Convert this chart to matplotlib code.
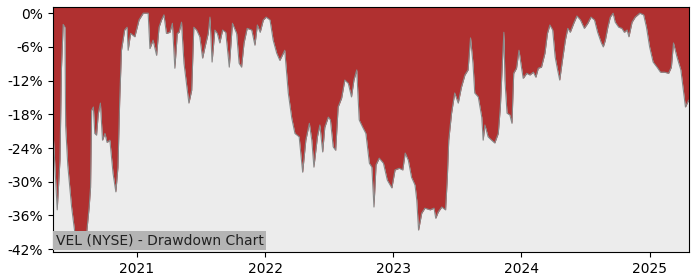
import matplotlib
matplotlib.use("Agg")
import matplotlib.pyplot as plt
import matplotlib.dates as mdates
import matplotlib.ticker as mticker
import numpy as np
import pandas as pd

ticker_label = "VEL (NYSE) - Drawdown Chart"

dates = [
    "2020-05-07", "2020-05-19", "2020-05-27", "2020-05-31", "2020-06-05", "2020-06-10",
    "2020-06-12", "2020-06-18", "2020-06-29", "2020-07-08", "2020-07-13", "2020-08-01",
    "2020-08-11", "2020-08-18", "2020-08-22", "2020-08-25", "2020-08-30", "2020-09-03",
    "2020-09-08", "2020-09-13", "2020-09-19", "2020-09-25", "2020-10-02", "2020-10-08",
    "2020-10-16", "2020-10-25", "2020-11-02", "2020-11-08", "2020-11-13", "2020-11-18",
    "2020-11-27", "2020-12-04", "2020-12-07", "2020-12-14", "2020-12-26", "2021-01-07",
    "2021-01-19", "2021-02-02", "2021-02-07", "2021-02-16", "2021-02-26", "2021-03-05",
    "2021-03-12", "2021-03-19", "2021-03-26", "2021-04-05", "2021-04-12", "2021-04-19",
    "2021-04-26", "2021-05-01", "2021-05-08", "2021-05-15", "2021-05-22", "2021-05-29",
    "2021-06-06", "2021-06-12", "2021-06-20", "2021-06-29", "2021-07-07", "2021-07-14",
    "2021-07-23", "2021-07-28", "2021-08-03", "2021-08-11", "2021-08-18", "2021-08-25",
    "2021-09-02", "2021-09-11", "2021-09-21", "2021-09-30", "2021-10-12", "2021-10-19",
    "2021-10-26", "2021-11-02", "2021-11-11", "2021-11-24", "2021-12-03", "2021-12-10",
    "2021-12-18", "2021-12-27", "2022-01-04", "2022-01-15", "2022-01-24", "2022-02-03",
    "2022-02-12", "2022-02-26", "2022-03-08", "2022-03-18", "2022-03-27", "2022-04-08",
    "2022-04-18", "2022-04-27", "2022-05-07", "2022-05-14", "2022-05-20", "2022-05-30",
    "2022-06-06", "2022-06-14", "2022-06-20", "2022-06-30", "2022-07-06", "2022-07-14",
    "2022-07-21", "2022-07-28", "2022-08-07", "2022-08-16", "2022-08-26", "2022-09-04",
    "2022-09-11", "2022-09-19", "2022-09-26", "2022-10-06", "2022-10-15", "2022-10-25",
    "2022-11-01", "2022-11-07", "2022-11-13", "2022-11-22", "2022-12-04", "2022-12-15",
    "2022-12-28", "2023-01-06", "2023-01-18", "2023-01-28", "2023-02-04", "2023-02-13",
    "2023-02-22", "2023-03-04", "2023-03-09", "2023-03-14", "2023-03-23", "2023-04-01",
    "2023-04-16", "2023-04-27", "2023-05-02", "2023-05-09", "2023-05-19", "2023-05-30",
    "2023-06-04", "2023-06-08", "2023-06-16", "2023-06-25", "2023-07-05", "2023-07-14",
    "2023-07-24", "2023-08-02", "2023-08-09", "2023-08-16", "2023-08-21", "2023-08-31",
    "2023-09-10", "2023-09-14", "2023-09-19", "2023-09-28", "2023-10-08", "2023-10-17",
    "2023-10-27", "2023-11-02", "2023-11-08", "2023-11-12", "2023-11-15", "2023-11-21",
    "2023-11-29", "2023-12-05", "2023-12-10", "2023-12-18", "2023-12-25", "2024-01-01",
    "2024-01-06", "2024-01-16", "2024-01-25", "2024-02-04", "2024-02-11", "2024-02-18",
    "2024-02-27", "2024-03-08", "2024-03-15", "2024-03-22", "2024-03-30", "2024-04-06",
    "2024-04-13", "2024-04-19", "2024-04-26", "2024-05-05", "2024-05-12", "2024-05-19",
    "2024-05-29", "2024-06-07", "2024-06-17", "2024-06-28", "2024-07-08", "2024-07-17",
    "2024-07-27", "2024-08-05", "2024-08-15", "2024-08-21", "2024-08-27", "2024-09-03",
    "2024-09-10", "2024-09-18", "2024-09-24", "2024-10-04", "2024-10-13", "2024-10-20",
    "2024-10-28", "2024-11-02", "2024-11-11", "2024-11-20", "2024-12-03", "2024-12-14",
    "2024-12-22", "2024-12-31", "2025-01-10", "2025-01-21", "2025-01-31", "2025-02-11",
    "2025-02-23", "2025-03-03", "2025-03-09", "2025-03-19", "2025-03-30", "2025-04-07",
    "2025-04-12", "2025-04-21",
]

drawdown_pct = [
    -20.8, -35.0, -26.0, -10.0, -2.0, -2.5,
    -20.0, -27.0, -34.5, -39.0, -42.0, -40.4,
    -39.0, -34.5, -31.0, -17.3, -16.7, -21.4,
    -21.7, -17.9, -16.0, -22.6, -21.4, -23.0,
    -22.6, -28.5, -31.8, -27.4, -15.5, -6.6,
    -3.0, -2.5, -6.6, -3.6, -4.2, -1.2,
    0.0, 0.0, -6.3, -4.8, -7.5, -2.5,
    -1.2, -0.3, -3.6, -3.4, -1.8, -9.8,
    -3.6, -3.4, -1.6, -8.9, -12.5, -16.0,
    -13.7, -2.5, -3.0, -4.2, -8.0, -6.0,
    -3.6, -0.7, -8.7, -3.0, -3.6, -5.3,
    -3.0, -3.4, -9.6, -1.8, -3.6, -8.9,
    -9.6, -5.3, -2.7, -3.0, -5.7, -2.1,
    -3.4, -1.2, -0.7, -1.2, -4.8, -7.1,
    -8.4, -6.6, -14.2, -18.7, -21.4, -22.0,
    -28.3, -22.6, -19.6, -22.6, -27.4, -22.0,
    -19.9, -24.7, -20.3, -18.5, -19.0, -23.8,
    -24.4, -16.7, -15.1, -11.9, -12.5, -14.9,
    -11.9, -10.1, -19.0, -20.3, -21.4, -26.7,
    -27.4, -34.5, -27.0, -25.8, -26.7, -29.7,
    -31.1, -27.9, -27.6, -27.9, -24.9, -26.2,
    -29.2, -30.6, -33.3, -38.6, -35.6, -34.7,
    -35.0, -34.7, -36.5, -35.4, -34.5, -35.0,
    -29.2, -22.6, -17.8, -14.2, -16.0, -13.2,
    -11.0, -10.1, -4.4, -8.9, -14.2, -14.9,
    -18.5, -22.6, -19.9, -22.0, -22.6, -23.1,
    -21.4, -16.7, -8.4, -3.4, -11.9, -17.8,
    -18.1, -19.6, -10.7, -9.8, -6.6, -9.6,
    -11.6, -10.7, -11.0, -10.5, -11.4, -9.8,
    -9.6, -7.1, -3.6, -2.1, -3.0, -7.8,
    -10.1, -11.9, -8.7, -4.8, -2.7, -3.4,
    -1.8, -0.5, -1.2, -2.7, -1.8, -0.7,
    -1.2, -3.4, -5.2, -6.0, -4.8, -2.5,
    -0.7, 0.0, -1.6, -2.5, -2.7, -3.4,
    -3.0, -4.2, -1.6, -0.7, 0.0, -0.3,
    -2.5, -6.0, -8.7, -9.6, -10.5, -10.5,
    -10.7, -9.6, -5.3, -7.8, -10.1, -14.2,
    -16.7, -15.5,
]

y_ticks = [0, -6, -12, -18, -24, -30, -36, -42]

x = pd.to_datetime(dates)
y = np.array(drawdown_pct)

fig = plt.figure(figsize=(7, 2.8), dpi=100)
ax = fig.add_axes([0.0757, 0.1, 0.908, 0.875])
ax.set_facecolor("#ececec")

y_top = 1.1
y_bottom = -42.5
ax.fill_between(x, y, y_top, color="#b03030", linewidth=0)
ax.plot(x, y, color="#888888", linewidth=0.8)

ax.set_ylim(y_bottom, y_top)
ax.set_xlim(x[0], x[-1])
ax.set_yticks(y_ticks)
ax.yaxis.set_major_formatter(mticker.FuncFormatter(lambda v, _: f"{v:.0f}%"))
ax.xaxis.set_major_locator(mdates.YearLocator())
ax.xaxis.set_major_formatter(mdates.DateFormatter("%Y"))
ax.tick_params(labelsize=10)

ax.text(0.004, 0.018, ticker_label, transform=ax.transAxes, fontsize=10,
        ha="left", va="bottom", color="#222222",
        bbox=dict(facecolor="#b4b4b4", edgecolor="none", pad=2))

fig.savefig("out.png", dpi=100)
